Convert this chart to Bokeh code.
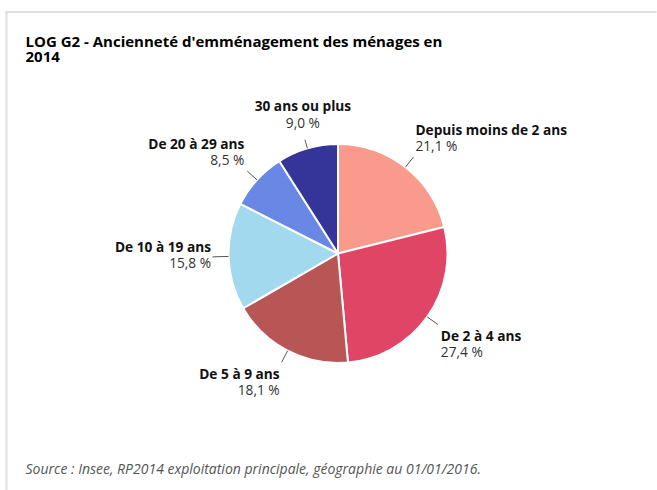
import math
from bokeh.plotting import figure
from bokeh.models import Range1d, ColumnDataSource
from bokeh.core.properties import value
from bokeh.embed import file_html
from bokeh.resources import INLINE

# ---- data ----
categories = ["Depuis moins de 2 ans", "De 2 à 4 ans", "De 5 à 9 ans",
              "De 10 à 19 ans", "De 20 à 29 ans", "30 ans ou plus"]
shares = [21.1, 27.4, 18.1, 15.8, 8.5, 9.0]
colors = ["#fa9a8c", "#e04566", "#b75655", "#a3d9ef", "#6987e5", "#343499"]
title_lines = ["LOG G2 - Ancienneté d'emménagement des ménages en", "2014"]
source_text = "Source : Insee, RP2014 exploitation principale, géographie au 01/01/2016."

# ---- layout (figure pixel units, y up) ----
W, H = 657, 490
cx, cy, R = 337.5, 237.0, 109.5
conn_len = [13, 13, 13, 16, 13, 9]
label_dx = [2, 3, -2, -1.5, -3, -2]
label_dy = [-22.5, 16, 16, -5.8, -23, -29.2]   # screen-down offsets of name baseline
label_align = ["left", "left", "right", "right", "right", "center"]
line_gap = 16.5
TS = 5.0  # text baseline correction
FONT = value("Open Sans")

p = figure(width=W, height=H, output_backend="svg", toolbar_location=None,
           x_range=Range1d(0, W), y_range=Range1d(0, H),
           x_axis_location=None, y_axis_location=None, min_border=0)
p.grid.visible = False
p.outline_line_color = None
p.background_fill_color = "white"

# frame
p.line(x=[5, 656], y=[H - 11.5, H - 11.5], line_color="#dedede", line_width=2)
p.line(x=[6, 6], y=[0, H - 11.5], line_color="#dedede", line_width=2)

total = sum(shares)
starts, ends, mids = [], [], []
acc = 0.0
for s in shares:
    a0 = acc / total
    acc += s
    a1 = acc / total
    starts.append(math.pi / 2 - 2 * math.pi * a0)
    ends.append(math.pi / 2 - 2 * math.pi * a1)
    mids.append(2 * math.pi * (a0 + a1) / 2)  # clockwise from top

src = ColumnDataSource(dict(start=starts, end=ends, color=colors))
p.wedge(x=cx, y=cy, radius=R, start_angle="start", end_angle="end",
        direction="clock", fill_color="color", line_color="white",
        line_width=2, source=src)

for i, name in enumerate(categories):
    m = mids[i]
    x0 = cx + R * math.sin(m)
    y0 = cy + R * math.cos(m)
    x1 = cx + (R + conn_len[i]) * math.sin(m)
    y1 = cy + (R + conn_len[i]) * math.cos(m)
    p.line(x=[x0, x1], y=[y0, y1], line_color="#555555", line_width=1)
    tx = x1 + label_dx[i]
    ty = y1 - label_dy[i] + TS
    p.text(x=[tx], y=[ty], text=[name], text_font=FONT, text_font_style="bold",
           text_font_size="13.7px", text_color="#111111", text_align=label_align[i],
           text_baseline="alphabetic")
    vtxt = f"{shares[i]:.1f}".replace(".", ",") + " %"
    p.text(x=[tx], y=[ty - line_gap], text=[vtxt], text_font=FONT,
           text_font_size="13.7px", text_color="#333333", text_align=label_align[i],
           text_baseline="alphabetic")

# title
for k, t in enumerate(title_lines):
    p.text(x=[25], y=[444.3 - 15.5 * k + TS], text=[t], text_font=FONT,
           text_font_style="bold", text_font_size="15px", text_color="#000000",
           text_baseline="alphabetic")

# source
p.text(x=[25], y=[17 + TS], text=[source_text], text_font=FONT, text_font_style="italic",
       text_font_size="14px", text_color="#555555", text_baseline="alphabetic")

open("out.html", "w").write(file_html(p, INLINE))
